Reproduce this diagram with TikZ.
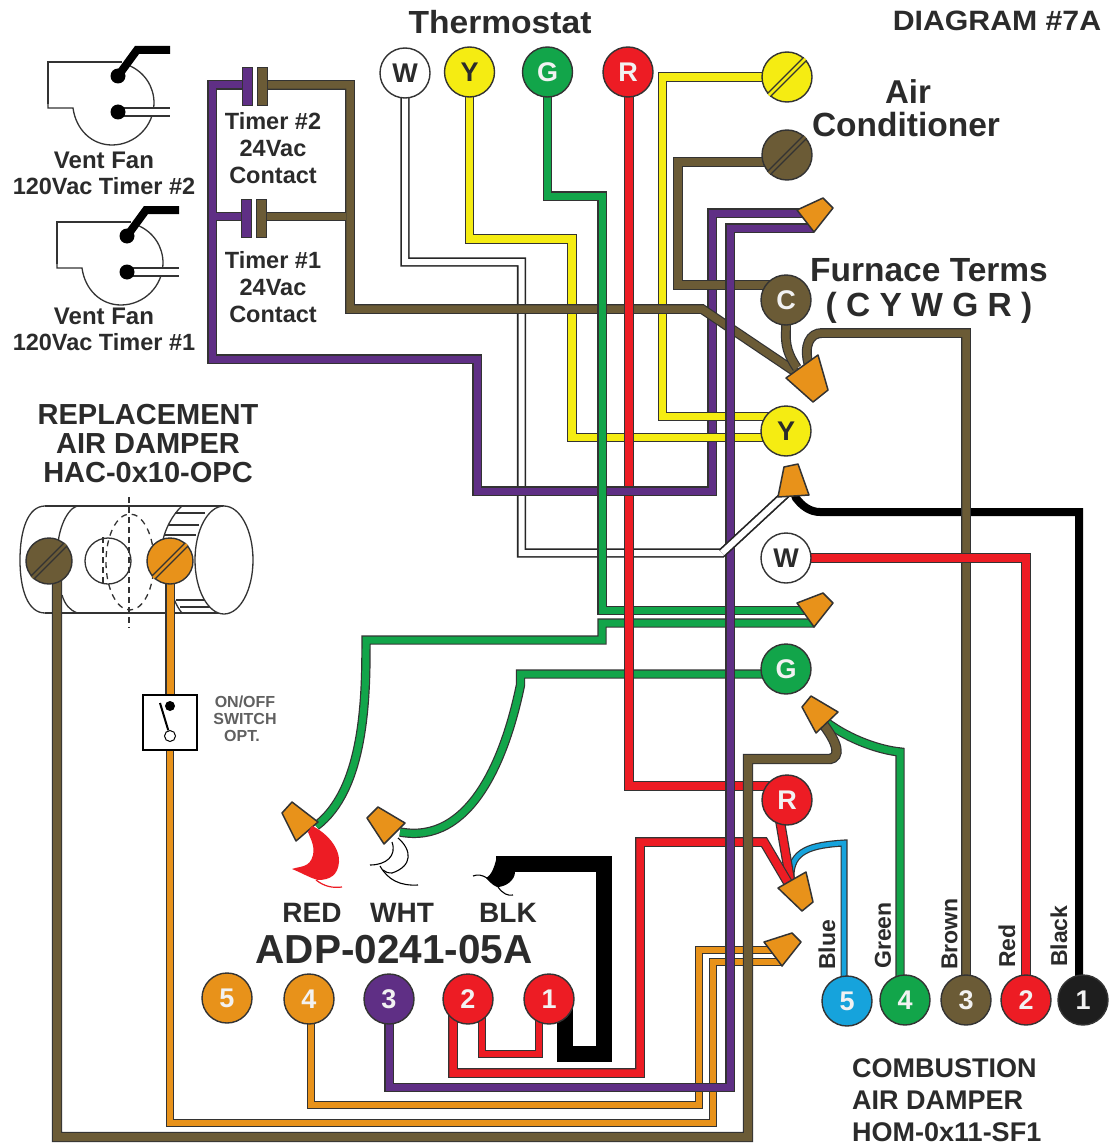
\documentclass[tikz,border=0pt]{standalone}
\usepackage{fontspec}
\setmainfont{Liberation Sans}
\definecolor{ink}{HTML}{2B2B2B}
\definecolor{edge}{HTML}{333333}
\definecolor{wyel}{HTML}{F5EC12}
\definecolor{wbrn}{HTML}{6B5B36}
\definecolor{wpur}{HTML}{5F2F85}
\definecolor{wred}{HTML}{ED1C24}
\definecolor{wgrn}{HTML}{12A54A}
\definecolor{worg}{HTML}{E8921A}
\definecolor{wblu}{HTML}{16A3DC}
\definecolor{wblk}{HTML}{1E1E1E}
\pgfdeclarelayer{under}
\pgfdeclarelayer{wires}
\pgfsetlayers{under,wires,main}
\tikzset{
  lab/.style={font=\bfseries\fontsize{#1}{#1}\selectfont, text=ink, inner sep=0pt},
  vlab/.style={lab=23, rotate=90, anchor=west},
  term/.style 2 args={circle, minimum size=50pt, inner sep=0pt, fill=#1, draw=edge, line width=1.4pt,
     text=#2, font=\bfseries\fontsize{27}{27}\selectfont},
  screw/.style={circle, minimum size=#1, inner sep=0pt, draw=edge, line width=1.4pt},
  slot/.style={draw=edge, double=#1, double distance=2.6pt, line width=1.4pt},
  wire/.style 2 args={draw=edge, double=#1, double distance=#2, line width=1.2pt, line join=miter, miter limit=10},
  yelw/.style={wire={wyel}{7.5pt}},
  brnw/.style={wire={wbrn}{7.5pt}},
  purw/.style={wire={wpur}{7pt}},
  redw/.style={wire={wred}{7.5pt}},
  grnw/.style={wire={wgrn}{7pt}},
  orgw/.style={wire={worg}{6pt}},
  bluw/.style={wire={wblu}{4.6pt}},
  whtw/.style={wire={white}{6pt}, line width=1.6pt, draw=black!85},
  plate/.style={rectangle, minimum width=10pt, minimum height=38pt, inner sep=0pt, fill=#1, draw=edge, line width=1pt},
  nut/.style={fill=worg, draw=edge, line width=1.5pt, line join=round},
  thinln/.style={draw=edge, line width=1.3pt},
  wisp/.style={draw=black, line width=1.1pt},
  fan/.pic={
    \draw[thinln] (48,104) -- (48,62) -- (122,62);
    \draw[thinln] (48,104) -- (48,108) -- (73,108)
       .. controls (76,130) and (92,145) .. (112,145)
       .. controls (135,145) and (154,126) .. (154,103)
       .. controls (154,87) and (145,72) .. (128,65);
    \draw[black, line width=8pt, line join=miter] (118,76) -- (137,50) -- (170,50);
    \draw[wire={white}{6pt}, line width=1.6pt] (118,112) -- (170,112);
    \fill[black] (118,76) circle (7.5);
    \fill[black] (118,112) circle (7.5);
  }
}
\begin{document}
\begin{tikzpicture}[x=1pt,y=-1pt]
\useasboundingbox (0,0) rectangle (1109,1145);
\begin{pgfonlayer}{under}
\fill[white] (0,0) rectangle (1109,1145);
% replacement damper body
\draw[thinln] (45,506) -- (224,506);
\draw[thinln] (45,613) -- (224,613);
\draw[thinln] (45,506) .. controls (28,506) and (20,530) .. (20,560) .. controls (20,590) and (28,613) .. (45,613);
\draw[thinln] (77,506) .. controls (65,510) and (57,535) .. (58,550);
\draw[thinln] (62,595) .. controls (65,605) and (70,610) .. (77,613);
\draw[thinln] (182,506) .. controls (172,515) and (165,530) .. (163,540);
\draw[thinln] (170,585) .. controls (172,595) and (176,606) .. (182,613);
\draw[thinln] (175,513) -- (205,513);
\draw[thinln] (168,525) -- (199,525);
\draw[thinln] (165,535) -- (196,535);
\draw[thinln] (176,600) -- (205,600);
\draw[thinln] (180,607) -- (212,607);
\draw[thinln, fill=white] (224,560) ellipse (29 and 54);
\draw[thinln, dash pattern=on 6pt off 5pt] (130,562) ellipse (24 and 48);
\draw[draw=edge, line width=1.2pt, dash pattern=on 6pt off 4pt] (129,497) -- (129,628);
\draw[thinln] (108,561) circle (23);
\draw[draw=edge, line width=1.2pt, dash pattern=on 6pt off 4pt] (103,537) -- (103,585);
\end{pgfonlayer}

% fans
\path (0,0) pic {fan};
\path (9,160) pic {fan};

% terminals
\node[term={white}{ink}] (tW) at (405,73) {W};
\node[term={wyel}{ink}] (tY) at (469.5,72) {Y};
\node[term={wgrn}{white!90!gray}] (tG) at (547.5,72) {G};
\node[term={wred}{white!90!gray}] (tR) at (628,72) {R};
\node[screw=50pt, fill=wyel] (sY) at (787,77) {};
\node[screw=50pt, fill=wbrn] (sB) at (787,155) {};
\draw[slot=wyel] (sY.225) -- (sY.45);
\draw[slot=wbrn] (sB.225) -- (sB.45);
\begin{scope}[every node/.append style={font=\bfseries\fontsize{29}{29}\selectfont}]
\node[term={wbrn}{white!90!gray}] (fC) at (786,300) {C};
\node[term={wyel}{ink}] (fY) at (786,431) {Y};
\node[term={white}{ink}] (fW) at (786,558) {W};
\node[term={wgrn}{white!90!gray}] (fG) at (786,669) {G};
\node[term={wred}{white!90!gray}] (fR) at (787,800) {R};
\end{scope}
\begin{scope}[every node/.append style={font=\bfseries\fontsize{25}{25}\selectfont}]
\node[term={worg}{white!90!gray}] (a5) at (227,998) {5};
\node[term={worg}{white!90!gray}] (a4) at (309,999) {4};
\node[term={wpur}{white!90!gray}] (a3) at (389,999) {3};
\node[term={wred}{white!90!gray}] (a2) at (468,999) {2};
\node[term={wred}{white!90!gray}] (a1) at (549,999) {1};
\node[term={wblu}{white!90!gray}] (c5) at (847,1001) {5};
\node[term={wgrn}{white!90!gray}] (c4) at (905,1000) {4};
\node[term={wbrn}{white!90!gray}] (c3) at (966,1000) {3};
\node[term={wred}{white!90!gray}] (c2) at (1026,1000) {2};
\node[term={wblk}{white!90!gray}] (c1) at (1083,1000) {1};
\end{scope}
% damper screws
\node[screw=46pt, fill=wbrn] (sL) at (49,561) {};
\node[screw=46pt, fill=worg] (sO) at (170,561) {};
\draw[slot=wbrn] (sL.225) -- (sL.45);
\draw[slot=worg] (sO.225) -- (sO.45);
% timer contact plates
\node[plate=wpur] (p2a) at (247,87) {};
\node[plate=wbrn] (p2b) at (262.5,87) {};
\node[plate=wpur] (p1a) at (246,218) {};
\node[plate=wbrn] (p1b) at (261,218) {};
% switch
\node[rectangle, draw=black, line width=1.5pt, fill=white, minimum width=54pt, minimum height=55pt, inner sep=0pt] (sw) at (170,722.5) {};
\node[circle, fill=black, minimum size=10pt, inner sep=0pt] (swA) at (170,706) {};
\node[circle, fill=white, draw=black, line width=1pt, minimum size=11pt, inner sep=0pt] (swB) at (170,736) {};
\coordinate (swL) at (160,703);
\draw[black, line width=2pt] (swL) -- (swB);

% wire nuts and their ports
\coordinate (n1a) at (812,213); \coordinate (n1b) at (814,228);
\coordinate (n2a) at (800,375); \coordinate (n2b) at (797,368); \coordinate (n2c) at (809,366);
\coordinate (n3a) at (790,490); \coordinate (n3b) at (793,490);
\coordinate (n4a) at (812,610.5); \coordinate (n4b) at (814,623);
\coordinate (n5a) at (820,720); \coordinate (n5b) at (826,722);
\coordinate (n6a) at (794,893); \coordinate (n6b) at (791,885); \coordinate (n6c) at (794,890);
\coordinate (n7a) at (780,950); \coordinate (n7b) at (782,962);
\coordinate (n8) at (305,822); \coordinate (n9) at (385,825);
\fill[nut] (797,210) -- (823,198) -- (833,208) -- (814,232) -- cycle;
\fill[nut] (786,378) -- (818,355) -- (828,390) -- (813,402) -- cycle;
\fill[nut] (784,467) -- (798,464) -- (809,495) -- (778,497) -- cycle;
\fill[nut] (797,603) -- (823,593) -- (833,603) -- (814,627) -- cycle;
\fill[nut] (802,707) -- (811,696) -- (838,712) -- (816,733) -- cycle;
\fill[nut] (778,888) -- (806,872) -- (813,902) -- (802,911) -- cycle;
\fill[nut] (764,942) -- (792,933) -- (801,942) -- (782,966) -- cycle;
\fill[nut] (282,813) -- (292,802) -- (318,822) -- (296,841) -- cycle;
\fill[nut] (367,818) -- (378,807) -- (405,823) -- (384,844) -- cycle;

% ports on terminals
\coordinate (fYa) at (786,416.5); \coordinate (fYb) at (786,437.5);
\coordinate (fCa) at (786,285); \coordinate (sBa) at (787,162);
\coordinate (fGa) at (786,674); \coordinate (fRa) at (787,786); \coordinate (fRb) at (779,815);
\coordinate (p2ap) at (247,85); \coordinate (p2bp) at (262,85);
\coordinate (p1ap) at (246,216.5); \coordinate (p1bp) at (261,216.5);

\begin{pgfonlayer}{wires}
% white
\draw[whtw] (tW.center) -- (405,262) -- (521.5,262) -- (521.5,553) -- (722,553) -- (n3a);
% purple from timers
\draw[purw] (p2ap) -- (212,85) -- (212,359) -- (477,359) -- (477,491) -- (712,491) -- (712,213) -- (n1a);
\draw[purw] (216,216.5) -- (p1ap);
% yellow
\draw[yelw] (tY.center) -- (469.5,239) -- (572,239) -- (572,437.5) -- (fYb);
\draw[yelw] (sY.center) -- (662.5,77) -- (662.5,416.5) -- (fYa);
% brown
\draw[brnw] (p2bp) -- (350,85) -- (350,309) -- (702,309) -- (n2a);
\draw[brnw] (p1bp) -- (346,216.5);
\draw[brnw] (sBa) -- (678,162) -- (678,285) -- (fCa);
\draw[brnw] (fC.center) -- (786,330) .. controls (785,345) and (788,355) .. (n2b);
% green
\draw[grnw] (tG.center) -- (547.5,196) -- (602,196) -- (602,610.5) -- (n4a);
\draw[grnw] (n4b) -- (602,623) -- (602,640) -- (366,640) -- (366,645) .. controls (366,700) and (364,790) .. (316,826);
\draw[grnw] (fGa) -- (520.5,674) -- (520.5,685) .. controls (505,760) and (470,845) .. (400,832);
% red thermostat
\draw[redw] (tR.center) ++(1,0) -- (629,786) -- (fRa);
\draw[wire={wpur}{7pt}] (623,491) -- (635,491);
% black
\draw[black, line width=8pt, line join=miter] (n3b) -- (796,498) .. controls (802,506) and (810,512) .. (820,512) -- (1079,512) -- (1079,1000) -- (c1.center);
% furnace brown
\draw[brnw] (n2c) .. controls (803,345) and (810,333) .. (822,333) -- (966,333) -- (c3.center);
% red to combustion 2
\draw[wire={wred}{8pt}] (fW.center) -- (1026,558) -- (c2.center);
% green to nut 5, blue to nut 6
\draw[grnw] (c4.center) ++(-5,0) -- (900,752) .. controls (880,750) and (850,740) .. (n5b);
\draw[bluw] (c5.center) ++(-3,0) -- (844,843) .. controls (812,845) and (790,850) .. (791,878);
% adp wires
\draw[wire={wred}{6.5pt}] (a2.center) ++(14,0) -- (482,1054) -- (539,1054) -- (539,999) -- (a1.center);
\draw[black, line width=16pt, line join=miter] (a1.center) ++(16,0) -- (565,1054) -- (604,1054) -- (604,864) -- (496,864);
\draw[redw] (fRb) -- (n6b);
\draw[redw] (a2.center) ++(-15,0) -- (453,1073) -- (640,1073) -- (640,842) -- (764,842) -- (n6a);
% orange
\draw[orgw] (a4.center) ++(2,0) -- (311,1105) -- (699,1105) -- (699,950) -- (n7a);
\draw[wire={worg}{7pt}] (sO.center) -- (swA.center);
\draw[orgw] (swB.center) -- (170,1123) -- (713,1123) -- (713,962) -- (n7b);
% purple from adp 3
\draw[purw] (a3.center) -- (389,1087.5) -- (730,1087.5) -- (730,228) -- (n1b);
% white crosses purple on diagonal
\draw[whtw] (722,553) -- (n3a);
% long brown
\draw[wire={wbrn}{8pt}] (sL.center) ++(8,0) -- (57,1137) -- (748,1137) -- (748,759) -- (830,759)
   .. controls (840,757) and (840,745) .. (n5a);
\end{pgfonlayer}

% adapter lead ends
\fill[wred] (312,826) .. controls (322,830) and (340,845) .. (339,862) .. controls (338,875) and (330,880) .. (318,880)
   .. controls (310,878) and (300,872) .. (292,869) .. controls (300,866) and (310,868) .. (313,855) .. controls (315,845) and (310,838) .. (308,832) -- cycle;
\draw[wred, line width=1.2pt] (316,880) .. controls (325,887) and (333,888) .. (342,887);
\draw[wisp] (398,838) .. controls (412,850) and (413,866) .. (392,873) .. controls (388,873) and (385,872) .. (383,870);
\draw[wisp] (392,842) .. controls (397,856) and (386,865) .. (370,865);
\draw[wisp] (380,866) .. controls (388,880) and (400,886) .. (418,885);
\fill[black] (497,856) -- (515,872) .. controls (515,880) and (506,887) .. (497,887) .. controls (492,885) and (488,880) .. (486,878) .. controls (492,875) and (495,865) .. (497,856) -- cycle;
\draw[wisp] (487,878) .. controls (482,875) and (478,874) .. (473,876);
\draw[wisp] (498,887) .. controls (503,894) and (508,896) .. (513,895);

% labels
\node[lab=32, xscale=1.05] (lThermo) at (500,22) {Thermostat};
\node[lab=28, xscale=1.08] (lDiag) at (997,21) {DIAGRAM \#7A};
\node[lab=33] (lAir) at (908,92) {Air};
\node[lab=33.5] (lCond) at (906,125) {Conditioner};
\node[lab=33.5] (lFurn) at (929,270) {Furnace Terms};
\node[lab=33.5] (lCYWGR) at (929,308) {( C Y W G R )};
\node[lab=24] (lV2a) at (104,160) {Vent Fan};
\node[lab=23.5] (lV2b) at (104,186) {120Vac Timer \#2};
\node[lab=24] (lV1a) at (104,316) {Vent Fan};
\node[lab=23.5] (lV1b) at (104,342) {120Vac Timer \#1};
\node[lab=23.5] (lT2a) at (273,121) {Timer \#2};
\node[lab=23.5] (lT2b) at (273,148) {24Vac};
\node[lab=23.5] (lT2c) at (273,175) {Contact};
\node[lab=23.5] (lT1a) at (273,260) {Timer \#1};
\node[lab=23.5] (lT1b) at (273,287) {24Vac};
\node[lab=23.5] (lT1c) at (273,314) {Contact};
\node[lab=29] (lRa) at (148,415) {REPLACEMENT};
\node[lab=29] (lRb) at (148,444) {AIR DAMPER};
\node[lab=29] (lRc) at (148,473) {HAC-0x10-OPC};
\node[lab=16, text=ink!75] (lSa) at (245,702) {ON/OFF};
\node[lab=16, text=ink!75] (lSb) at (245,719) {SWITCH};
\node[lab=16, text=ink!75] (lSc) at (242,736) {OPT.};
\node[lab=28] (lRED) at (312,913) {RED};
\node[lab=28] (lWHT) at (402,913) {WHT};
\node[lab=28] (lBLK) at (508,913) {BLK};
\node[lab=40.5] (lADP) at (394,950) {ADP-0241-05A};
\node[vlab] (lBlue) at (827,970) {Blue};
\node[vlab] (lGreen) at (883,969) {Green};
\node[vlab] (lBrown) at (949.5,970) {Brown};
\node[vlab] (lRed) at (1007,968) {Red};
\node[vlab] (lBlack) at (1059,967) {Black};
\node[lab=27, anchor=west] (lCa) at (852,1068) {COMBUSTION};
\node[lab=27, anchor=west] (lCb) at (852,1100) {AIR DAMPER};
\node[lab=27, anchor=west] (lCc) at (852,1132) {HOM-0x11-SF1};
\end{tikzpicture}
\end{document}
